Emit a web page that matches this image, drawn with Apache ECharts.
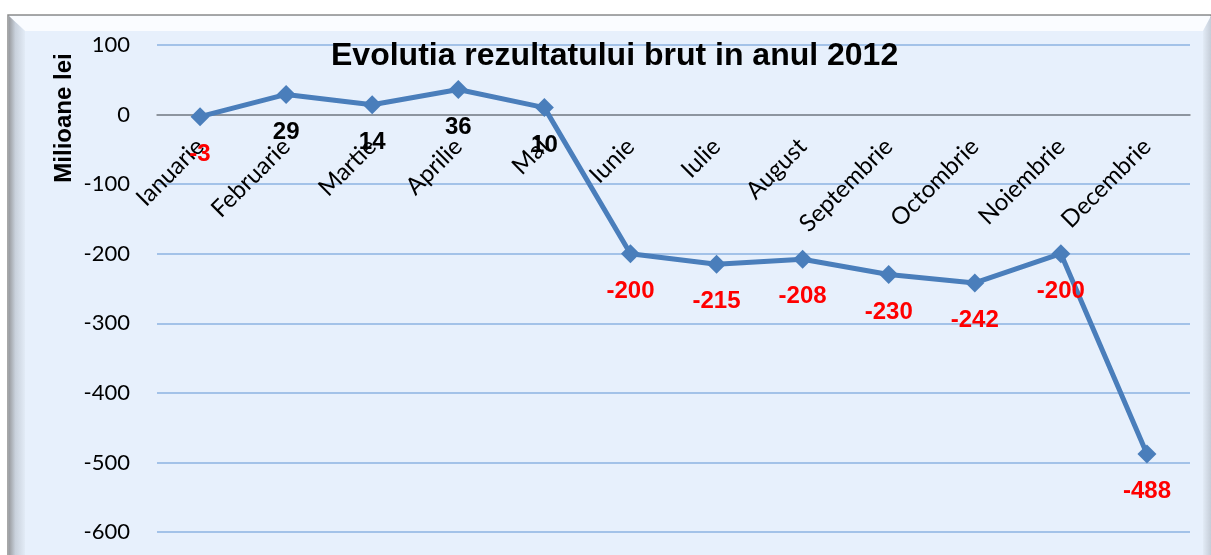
<!DOCTYPE html>
<html>
<head>
<meta charset="utf-8">
<script src="https://cdn.jsdelivr.net/npm/echarts@6/dist/echarts.min.js"></script>
<style>
  html, body { margin: 0; padding: 0; background: #fff; }
  #chart { width: 1211px; height: 555px; }
</style>
</head>
<body>
<div id="chart"></div>
<script>
// months and gross result (milioane lei)
const months = ["Ianuarie", "Februarie", "Martie", "Aprilie", "Mai", "Iunie",
  "Iulie", "August", "Septembrie", "Octombrie", "Noiembrie", "Decembrie"];
const rezultat = [-3, 29, 14, 36, 10, -200, -215, -208, -230, -242, -200, -488];
const yTicks = [-600, -500, -400, -300, -200, -100, 0, 100];

const chart = echarts.init(document.getElementById("chart"));

// negatives get red labels, positives black
const points = rezultat.map(v => ({
  value: v,
  label: { color: v < 0 ? "#ff0000" : "#000000" }
}));

// plot box
const gridTop = 45, gridBottom = 23;
const plotH = 555 - gridTop - gridBottom;
const yMin = yTicks[0], yMax = yTicks[yTicks.length - 1];
// move category axis up to the zero line (labels too)
const zeroOffset = plotH * (0 - yMin) / (yMax - yMin);

chart.setOption({
  animation: false,
  backgroundColor: "#ffffff",
  title: {
    text: "Evolutia rezultatului brut in anul 2012",
    left: 326,
    top: 35,
    textStyle: {
      fontFamily: "Liberation Sans",
      fontSize: 32,
      fontWeight: "bold",
      color: "#000"
    }
  },
  graphic: [
    // frame like the excel chart area
    { type: "rect", z: -10, shape: { x: 8, y: 15, width: 1203, height: 545 },
      style: { fill: "#e7f0fc", stroke: "#8c8c8c", lineWidth: 1.5 } },
    { type: "polygon", z: -9, shape: { points: [[9, 16], [1211, 16], [1203, 31], [25, 31]] },
      style: { fill: "#fafcff" } },
    { type: "polygon", z: -9, shape: { points: [[9, 16], [25, 31], [25, 555], [9, 555]] },
      style: { fill: new echarts.graphic.LinearGradient(0, 0, 1, 0, [
        { offset: 0, color: "#9a9ca0" }, { offset: 0.4, color: "#c9d1dc" }, { offset: 1, color: "#e2ebf6" }]) } },
    { type: "polygon", z: -9, shape: { points: [[1211, 16], [1203, 31], [1203, 555], [1211, 555]] },
      style: { fill: new echarts.graphic.LinearGradient(0, 0, 1, 0, [
        { offset: 0, color: "#e2ebf6" }, { offset: 1, color: "#c5cdd8" }]) } },
    { type: "text", x: 64, y: 118, rotation: Math.PI / 2,
      style: { text: "Milioane lei", fontFamily: "Liberation Sans", fontSize: 24,
        fontWeight: "bold", fill: "#000", align: "center", verticalAlign: "middle" } }
  ],
  grid: { left: 157, right: 21, top: gridTop, bottom: gridBottom,
    containLabel: false, outerBoundsMode: "none" },
  xAxis: {
    type: "category",
    data: months,
    boundaryGap: true,
    offset: -zeroOffset,
    axisLine: { onZero: false, lineStyle: { color: "#868686", width: 1.5 } },
    axisTick: { show: false },
    axisLabel: {
      rotate: 45,
      margin: 28,
      fontFamily: "Lato",
      fontSize: 24,
      color: "#000"
    },
    splitLine: { show: false }
  },
  yAxis: {
    type: "value",
    min: yMin,
    max: yMax,
    interval: 100,
    axisLine: { show: false },
    axisTick: { show: false },
    axisLabel: {
      margin: 27,
      fontFamily: "Lato",
      fontSize: 22,
      color: "#000"
    },
    splitLine: { lineStyle: { color: "#8db3e2", width: 1.5 } }
  },
  series: [{
    type: "line",
    data: points,
    symbol: "diamond",
    symbolSize: 19,
    itemStyle: { color: "#4a7ebb" },
    lineStyle: { color: "#4a7ebb", width: 5 },
    label: {
      show: true,
      position: "bottom",
      distance: 16,
      fontFamily: "Liberation Sans",
      fontSize: 24,
      fontWeight: "bold"
    }
  }]
});
</script>
</body>
</html>
